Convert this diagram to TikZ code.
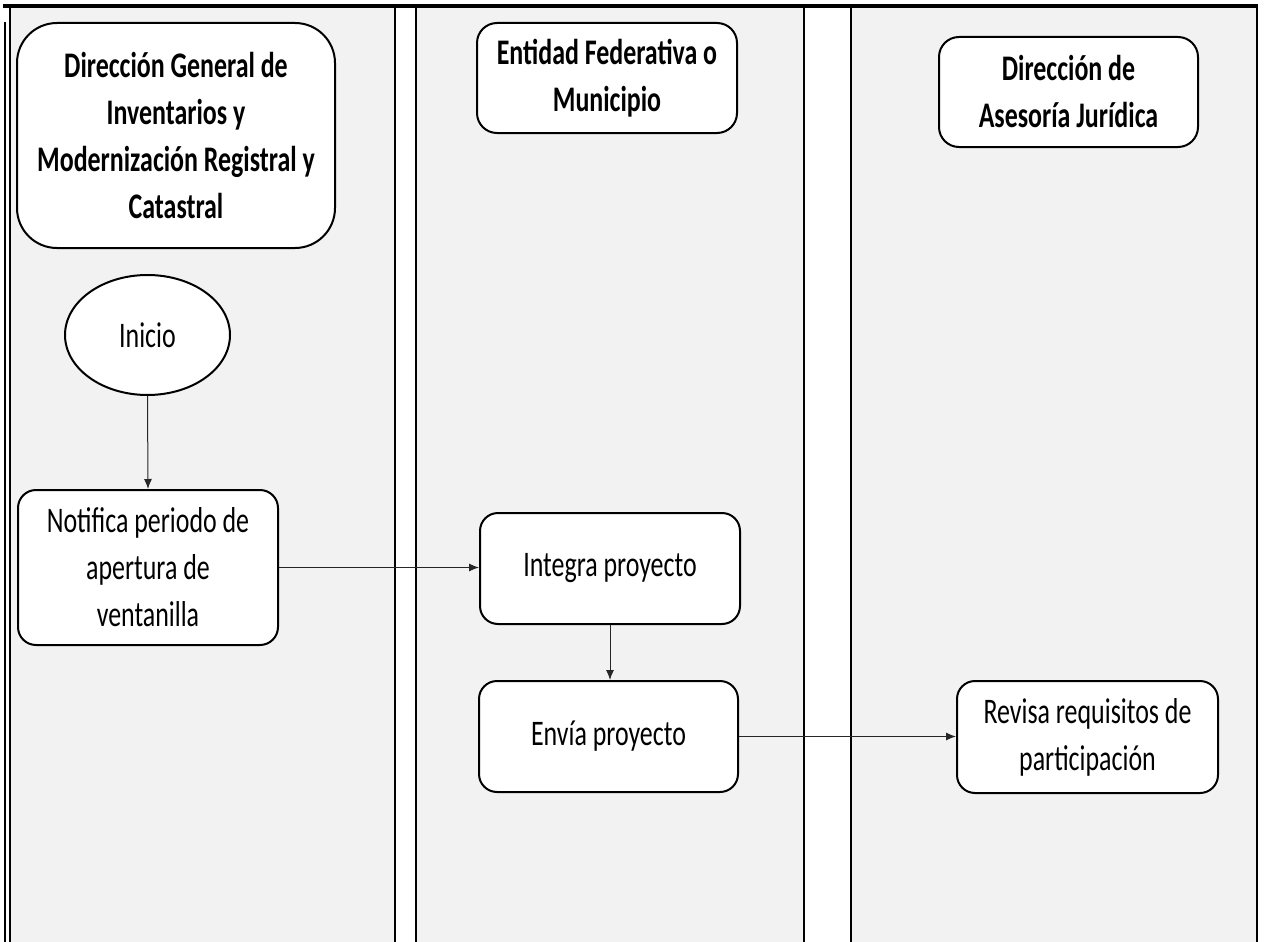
\documentclass[tikz,border=0pt]{standalone}
\usepackage{fontspec}
\setmainfont[FakeStretch=0.72]{Carlito}
\usetikzlibrary{arrows.meta,shapes.geometric}
\definecolor{lanegrey}{HTML}{F2F2F2}
\begin{document}
\begin{tikzpicture}[x=1pt,y=-1pt,
  lane/.style={fill=lanegrey,draw=black,line width=1.3pt},
  boxbase/.style={draw=black,fill=white,line width=2pt,align=center,
    inner sep=0pt,font=\fontsize{36}{47}\selectfont},
  header/.style={boxbase,font=\fontsize{36}{47}\selectfont\bfseries,rounded corners=20pt},
  proc/.style={boxbase,rounded corners=18pt},
  flow/.style={draw=black!85,line width=1pt,-{Latex[length=10pt,width=8pt]}}
]
\useasboundingbox (0,0) rectangle (1267,942);
\fill[white] (0,0) rectangle (1267,942);

% swimlanes
\draw[lane] (10,6) rectangle (395,950);
\draw[lane] (416,6) rectangle (804,950);
\draw[lane] (851,6) rectangle (1257,950);
\draw[line width=1.3pt] (5,22) -- (5,950);
\draw[line width=3.2pt] (3,6) -- (1258,6);

% lane headers
\node[header,rounded corners=40pt,minimum width=318pt,minimum height=225pt]
  (h1) at (176,135.5) {Dirección General de\\Inventarios y\\Modernización Registral y\\Catastral};
\node[header,minimum width=260pt,minimum height=110pt]
  (h2) at (607,78) {Entidad Federativa o\\Municipio};
\node[header,minimum width=259pt,minimum height=110pt]
  (h3) at (1068.5,92) {Dirección de\\Asesoría Jurídica};

% process
\node[boxbase,ellipse,minimum width=165pt,minimum height=120pt]
  (inicio) at (147.5,335) {Inicio};
\node[proc,minimum width=260pt,minimum height=155pt]
  (notifica) at (148,567.5) {Notifica periodo de\\apertura de\\ventanilla};
\node[proc,minimum width=260pt,minimum height=111pt]
  (integra) at (610,568.5) {Integra proyecto};
\node[proc,minimum width=259pt,minimum height=111pt]
  (envia) at (608.5,736.5) {Envía proyecto};
\node[proc,minimum width=261pt,minimum height=112pt]
  (revisa) at (1087.5,737) {Revisa requisitos de\\participación};

% connectors
\draw[flow] (inicio.south) -- (notifica.north);
\draw[flow] (notifica.east) -- (notifica.east -| integra.west);
\draw[flow] (integra.south) -- (integra.south |- envia.north);
\draw[flow] (envia.east) -- (envia.east -| revisa.west);
\end{tikzpicture}
\end{document}
